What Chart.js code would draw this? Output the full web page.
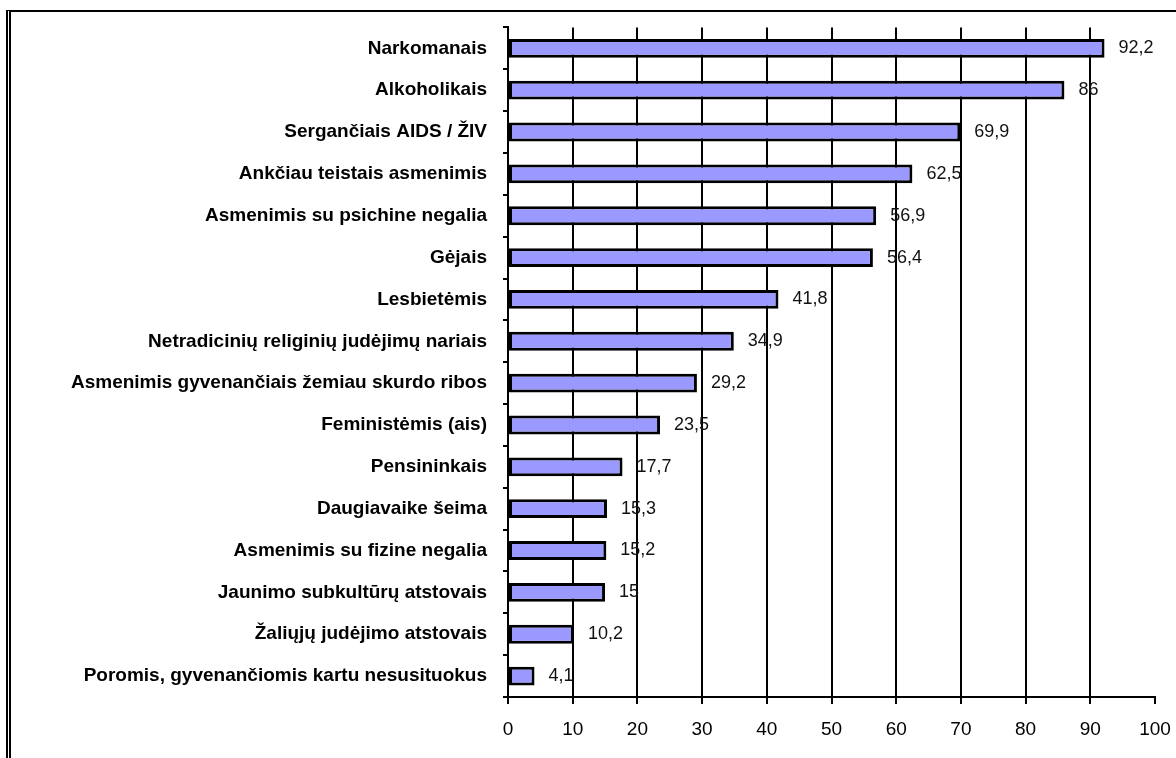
<!DOCTYPE html>
<html>
<head>
<meta charset="utf-8">
<script src="https://cdn.jsdelivr.net/npm/chart.js@4"></script>
<style>
  html, body { margin: 0; padding: 0; background: #fff; }
  #wrap { position: relative; width: 1176px; height: 758px; overflow: hidden; }
  #frame {
    position: absolute; left: 6px; top: 10px; width: 1170px; height: 748px;
    border-left: 5px double #000; border-top: 2px solid #000; box-sizing: border-box;
  }
  canvas { position: absolute; left: 0; top: 0; }
</style>
</head>
<body>
<div id="wrap">
  <div id="frame"></div>
  <canvas id="myChart" width="1176" height="758"></canvas>
</div>
<script>
const groups = [
  'Narkomanais',
  'Alkoholikais',
  'Sergančiais AIDS / ŽIV',
  'Ankčiau teistais asmenimis',
  'Asmenimis su psichine negalia',
  'Gėjais',
  'Lesbietėmis',
  'Netradicinių religinių judėjimų nariais',
  'Asmenimis gyvenančiais žemiau skurdo ribos',
  'Feministėmis (ais)',
  'Pensininkais',
  'Daugiavaike šeima',
  'Asmenimis su fizine negalia',
  'Jaunimo subkultūrų atstovais',
  'Žaliųjų judėjimo atstovais',
  'Poromis, gyvenančiomis kartu nesusituokus'
];
const percents = [92.2, 86, 69.9, 62.5, 56.9, 56.4, 41.8, 34.9, 29.2, 23.5, 17.7, 15.3, 15.2, 15, 10.2, 4.1];
const xTicks = [0, 10, 20, 30, 40, 50, 60, 70, 80, 90, 100];

// numbers after the bar ends, comma as decimal mark
const valueLabels = {
  id: 'valueLabels',
  afterDatasetsDraw(chart) {
    const ctx = chart.ctx;
    const meta = chart.getDatasetMeta(0);
    ctx.save();
    ctx.font = '18px "Liberation Sans", Arial, sans-serif';
    ctx.fillStyle = '#111';
    ctx.textAlign = 'left';
    ctx.textBaseline = 'middle';
    meta.data.forEach((bar, i) => {
      ctx.fillText(String(percents[i]).replace('.', ','), bar.x + 14, bar.y);
    });
    ctx.restore();
  }
};

const data = {
  labels: groups,
  datasets: [{
    data: percents,
    backgroundColor: '#9999ff',
    borderColor: '#000',
    borderWidth: 3,
    borderSkipped: false,
    barPercentage: 0.45,
    categoryPercentage: 1
  }]
};

const config = {
  type: 'bar',
  data,
  plugins: [valueLabels],
  options: {
    indexAxis: 'y',
    responsive: false,
    animation: false,
    layout: { padding: { left: 0, top: 25, right: 21, bottom: 0 } },
    plugins: { legend: { display: false }, tooltip: { enabled: false } },
    scales: {
      x: {
        min: 0,
        max: 100,
        afterBuildTicks: (scale) => { scale.ticks = xTicks.map(v => ({ value: v })); },
        afterFit: (scale) => {
          scale.height = 61;
          scale.paddingLeft = 0;
          scale.paddingRight = 0;
        },
        border: { color: '#000', width: 2 },
        grid: {
          color: (c) => (c.tick && c.tick.value === 100) ? 'rgba(0,0,0,0)' : '#000',
          tickColor: '#000',
          lineWidth: 2,
          tickLength: 7
        },
        ticks: {
          color: '#000',
          padding: 14,
          maxRotation: 0,
          font: { family: '"Liberation Sans", Arial, sans-serif', size: 19 }
        }
      },
      y: {
        afterFit: (scale) => { scale.width = 508; },
        border: { color: '#000', width: 2 },
        grid: {
          drawOnChartArea: false,
          color: '#000',
          lineWidth: 2,
          tickLength: 5
        },
        ticks: {
          color: '#000',
          padding: 16,
          autoSkip: false,
          font: { family: '"Liberation Sans", Arial, sans-serif', size: 19, weight: 'bold' }
        }
      }
    }
  }
};

const myChart = new Chart(document.getElementById('myChart'), config);
</script>
</body>
</html>
